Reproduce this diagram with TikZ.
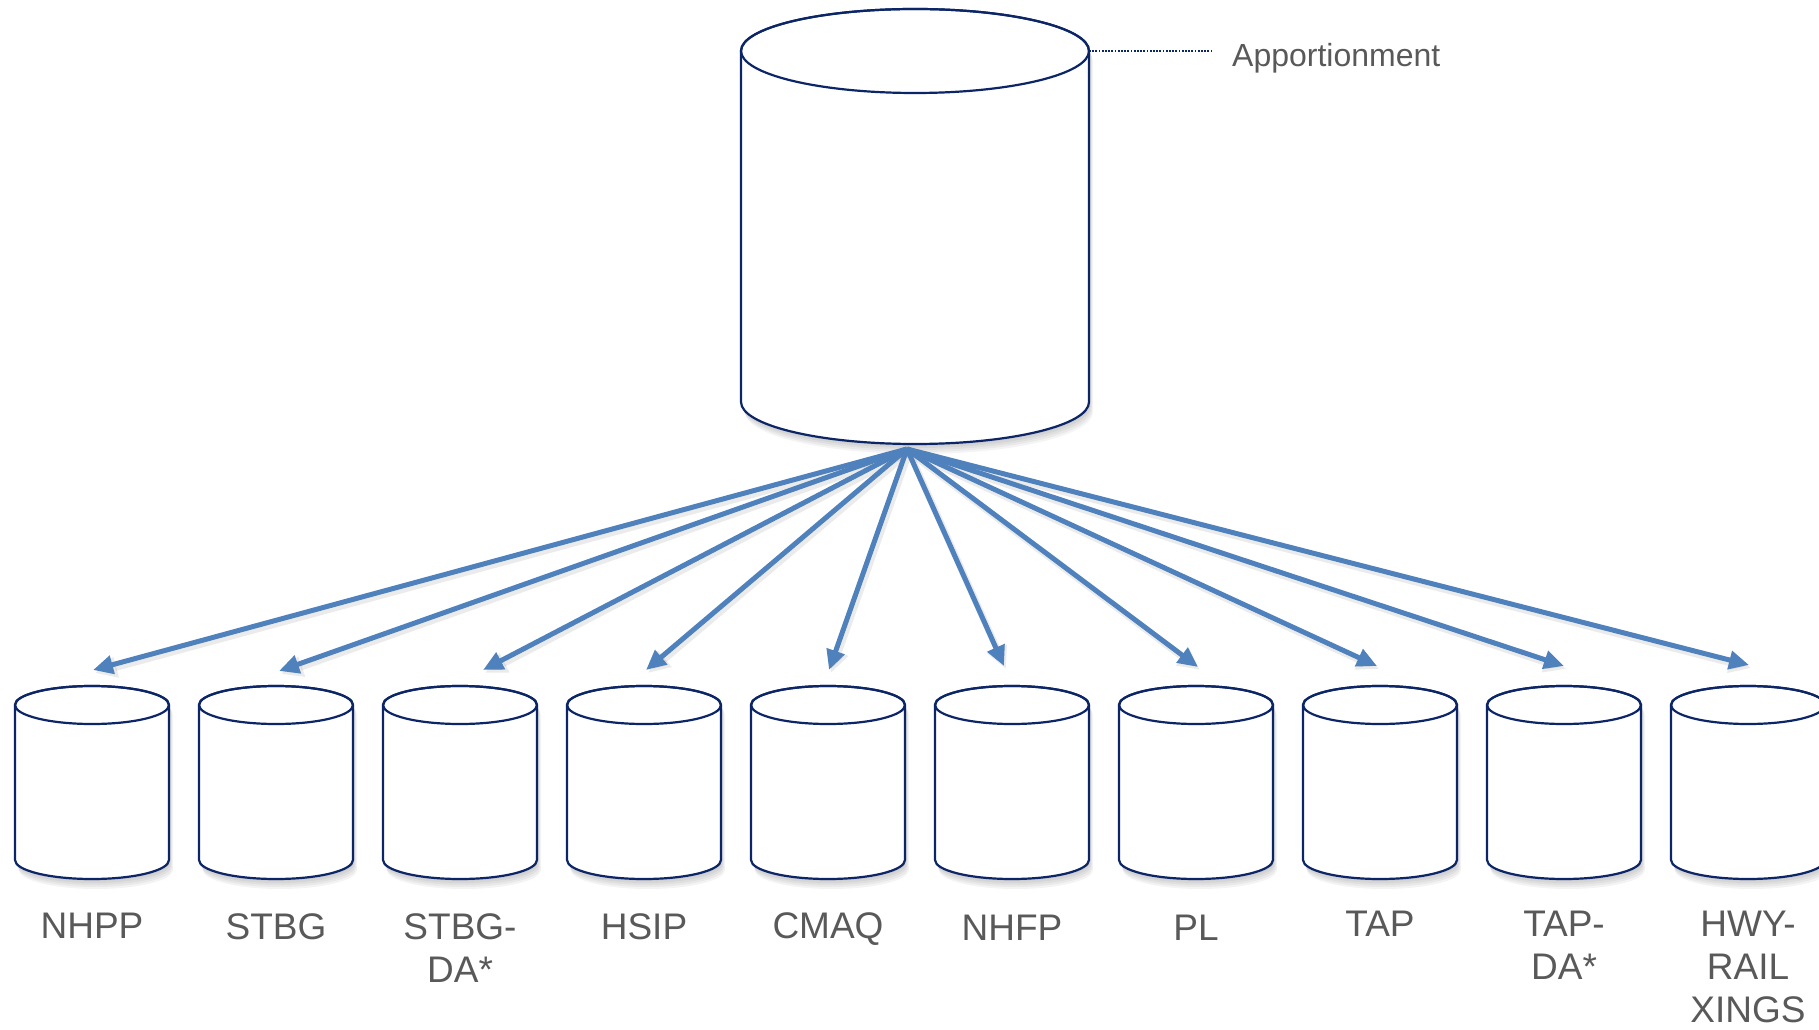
\documentclass[tikz,border=0pt]{standalone}
\usepackage{fontspec}
\setmainfont{Liberation Sans}
\usetikzlibrary{arrows.meta,calc}

\definecolor{drumline}{HTML}{0B2566}
\definecolor{flow}{HTML}{4F81BD}
\definecolor{caption}{HTML}{595959}

\tikzset{
  drumedge/.style={draw=drumline, line width=2.2pt, fill=white, line join=round},
  drumtop/.style={draw=drumline, line width=2.2pt},
  drumshade/.style={fill=black, opacity=0.045},
  feed/.style={draw=flow, line width=5pt, -{Triangle[length=20pt,width=18pt]}},
  feedshade/.style={draw=black, opacity=0.08, line width=7pt, -{Triangle[length=22pt,width=20pt]}},
  fundlabel/.style={font=\fontsize{37}{43}\selectfont, text=caption, align=center, anchor=north, inner sep=0pt},
  leader/.style={draw=drumline, line width=2.6pt, dash pattern=on 1.8pt off 1.4pt},
  box/.style={inner sep=0pt, outer sep=0pt, draw=none}
}

% soft shadow under a drum: #1 = centre x, #2 = top y, #3 = bottom y, #4 = rx, #5 = ry
\newcommand\drumshadow[5]{%
  \foreach \dd in {2,4,6,8,10}{%
    \fill[drumshade] ($(#1-#4+0.4*\dd,#2-\dd)$) -- ($(#1-#4+0.4*\dd,#3-\dd)$)
      arc[start angle=180,end angle=360,x radius=#4,y radius=#5]
      -- ($(#1+#4+0.4*\dd,#2-\dd)$)
      arc[start angle=0,end angle=180,x radius=#4,y radius=#5] -- cycle;
  }%
}
% drum outline: body with rounded bottom, full ellipse on top
\newcommand\drumbody[5]{%
  \path[drumedge] (#1-#4,#2) -- (#1-#4,#3)
    arc[start angle=180,end angle=360,x radius=#4,y radius=#5]
    -- (#1+#4,#2)
    arc[start angle=0,end angle=180,x radius=#4,y radius=#5] -- cycle;
  \draw[drumtop] (#1,#2) ellipse[x radius=#4,y radius=#5];
}

\begin{document}
\begin{tikzpicture}[x=1pt,y=1pt]
\useasboundingbox (0,0) rectangle (1819,1029);

% main apportionment drum
\drumshadow{915}{978}{627}{174}{42}
\drumbody{915}{978}{627}{174}{42}
\node[box, minimum width=348pt, minimum height=435pt] (apport) at (915,802.5) {};
\coordinate (hub) at (907,580);

% leader line and caption
\coordinate (lead) at (1212,978);
\draw[leader] (apport.east |- 0,978) -- (lead);
\node[anchor=base west, inner sep=0pt, font=\fontsize{32}{38}\selectfont, text=caption] (apptext) at (1232,962) {Apportionment};

% program drums with captions and arrow targets
\foreach \i/\tx/\ty/\ly/\name in {
  1/93/359/116/NHPP,
  2/279/358/116/STBG,
  3/483/359/116/{STBG-\\DA*},
  4/646/359/116/HSIP,
  5/829/359/117/CMAQ,
  6/1004/363/114/NHFP,
  7/1198/362/114/PL,
  8/1377/363/118/TAP,
  9/1564/363/118/{TAP-\\DA*},
  10/1749/364/118/{HWY-\\RAIL\\XINGS}}{
  \pgfmathsetmacro\cx{92+184*(\i-1)}
  \drumshadow{\cx}{324}{169}{77}{19}
  \drumbody{\cx}{324}{169}{77}{19}
  \node[box, minimum width=154pt, minimum height=193pt] (c\i) at (\cx,246.5) {};
  \node[fundlabel] (l\i) at (\cx,\ly) {\name};
  \coordinate (t\i) at (\tx,\ty);
}

% arrow shadows first, then the arrows
\foreach \i in {1,...,10}{
  \draw[feedshade] ($(hub)+(2,-3)$) -- ($(t\i)+(2,-3)$);
}
\foreach \i in {1,...,10}{
  \draw[feed] (hub) -- (t\i);
}
\end{tikzpicture}
\end{document}
